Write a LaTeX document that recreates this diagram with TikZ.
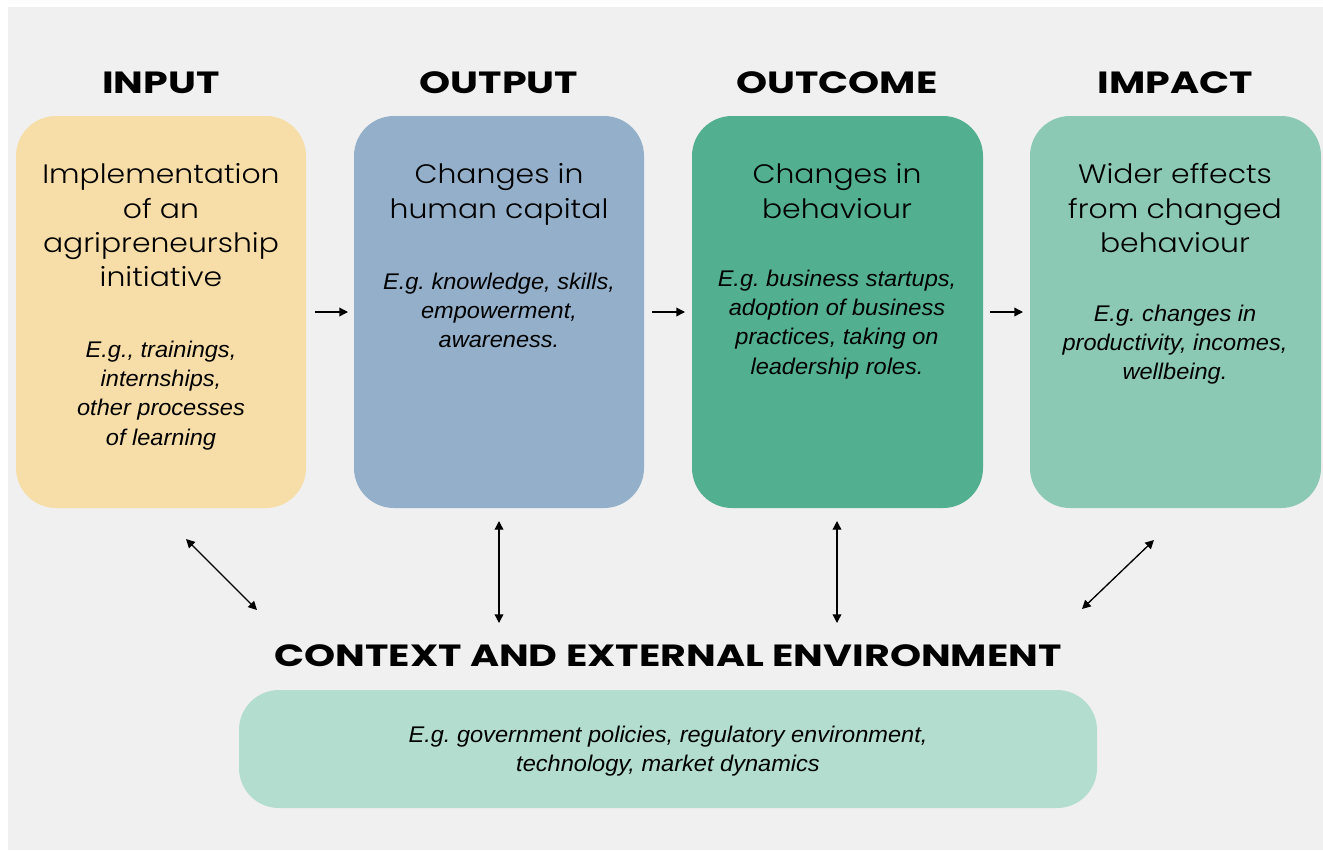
\documentclass[tikz,border=0pt]{standalone}
\usepackage{fontspec}
\setmainfont{Poppins}
\newfontfamily\titlefont{Poppins Light}[FakeStretch=1.12]
\newfontfamily\headfont{Poppins}[UprightFont={* Bold},FakeStretch=1.29]
\newfontfamily\egfont{Liberation Sans}[FakeStretch=1.04]
\frenchspacing
\definecolor{bg}{HTML}{F0F0F0}
\definecolor{cin}{HTML}{F7DEA8}
\definecolor{cout}{HTML}{93AFC9}
\definecolor{coc}{HTML}{52AF90}
\definecolor{cimp}{HTML}{8CC9B4}
\definecolor{cctx}{HTML}{B2DDCF}
\tikzset{
  box/.style={rounded corners=40*0.75pt, draw=none},
  head/.style={font=\headfont\fontsize{23}{26}\selectfont, anchor=base},
  ttl/.style={font=\titlefont\fontsize{20}{25.7}\selectfont, align=center, anchor=north},
  eg/.style={font=\egfont\itshape\fontsize{17}{22}\selectfont, align=center, anchor=north},
  arr/.style={-{Triangle[length=6.5pt,width=6.5pt]}, line width=1pt},
  darr/.style={{Triangle[length=6.5pt,width=6.5pt]}-{Triangle[length=6.5pt,width=6.5pt]}, line width=1pt},
}
\usetikzlibrary{arrows.meta}
\begin{document}
\begin{tikzpicture}[x=0.75pt,y=-0.75pt]
\useasboundingbox (0,0) rectangle (1323,850);
\fill[bg] (8,7) rectangle (1323,850);
% boxes
\fill[cin,box] (16,116) rectangle (306,508);
\fill[cout,box] (354,116) rectangle (644,508);
\fill[coc,box] (692,116) rectangle (983,508);
\fill[cimp,box] (1030,116) rectangle (1321,508);
\fill[cctx,box] (239,690) rectangle (1097,808);
% headings
\node[head] (hin) at (161,93) {INPUT};
\node[head] (hout) at (499,93) {OUTPUT};
\node[head] (hoc) at (837,93) {OUTCOME};
\node[head] (himp) at (1175,93) {IMPACT};
\node[head] (hctx) at (668,666) {CONTEXT AND EXTERNAL ENVIRONMENT};
% titles
\node[ttl] (tin) at (161,159) {Implementation\\of an\\agripreneurship\\initiative};
\node[ttl] (tout) at (499,159) {Changes in\\human capital};
\node[ttl] (toc) at (837,159) {Changes in\\behaviour};
\node[ttl] (timp) at (1175,159) {Wider effects\\from changed\\behaviour};
% examples
\node[eg] (ein) at (161,336) {E.g., trainings,\\internships,\\other processes\\of learning};
\node[eg] (eout) at (499,268) {E.g. knowledge, skills,\\empowerment,\\awareness.};
\node[eg] (eoc) at (837,265) {E.g. business startups,\\adoption of business\\practices, taking on\\leadership roles.};
\node[eg] (eimp) at (1175,300) {E.g. changes in\\productivity, incomes,\\wellbeing.};
\node[eg] (ectx) at (668,721) {E.g. government policies, regulatory environment,\\technology, market dynamics};
% arrows
\coordinate (a1s) at (315,312); \coordinate (a1e) at (348,312);
\coordinate (a2s) at (652,312); \coordinate (a2e) at (685,312);
\coordinate (a3s) at (990,312); \coordinate (a3e) at (1023,312);
\draw[arr] (a1s) -- (a1e);
\draw[arr] (a2s) -- (a2e);
\draw[arr] (a3s) -- (a3e);
\coordinate (d1a) at (186,539); \coordinate (d1b) at (257,610);
\coordinate (d2a) at (499,521); \coordinate (d2b) at (499,623);
\coordinate (d3a) at (837,521); \coordinate (d3b) at (837,623);
\coordinate (d4a) at (1154,540); \coordinate (d4b) at (1082,609);
\draw[darr] (d1a) -- (d1b);
\draw[darr] (d2a) -- (d2b);
\draw[darr] (d3a) -- (d3b);
\draw[darr] (d4a) -- (d4b);
\end{tikzpicture}
\end{document}
